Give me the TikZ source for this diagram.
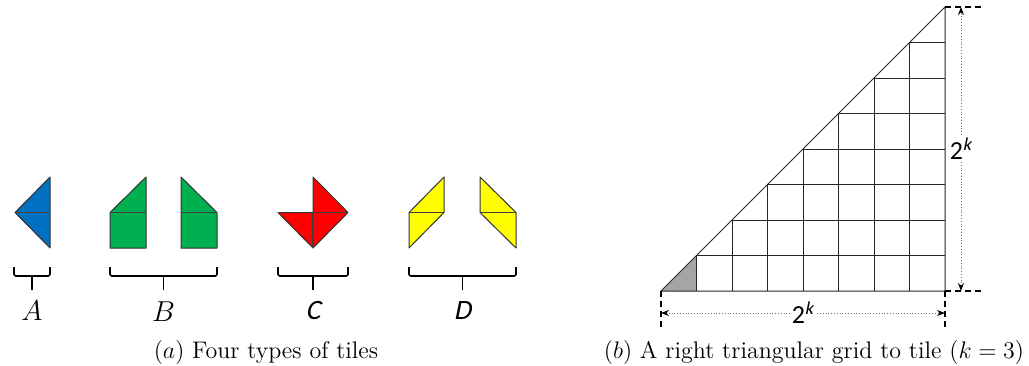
\documentclass[tikz,border=0pt]{standalone}
\usepackage{fontspec}
\newfontfamily\calibri{Carlito}
\newfontfamily\calibrisl{Carlito}[FakeSlant=0.2]
\usetikzlibrary{arrows.meta, calc}
\definecolor{tileblue}{RGB}{0,112,192}
\definecolor{tilegreen}{RGB}{0,176,80}
\definecolor{tilered}{RGB}{255,0,0}
\definecolor{tileyellow}{RGB}{255,255,0}
\definecolor{cellgray}{RGB}{165,165,165}

\begin{document}
\begin{tikzpicture}[x=0.5pt, y=-0.5pt,
    tile/.style={draw=black!80, line width=0.5pt, fill=#1, line join=round},
    seam/.style={draw=black!75, line width=0.6pt},
    brace/.style={draw, line width=0.8pt, rounded corners=1pt},
    tilelabel/.style={font=\fontsize{14}{16}\selectfont, inner sep=0pt},
    gridline/.style={draw=black!85, line width=0.5pt},
    ext/.style={draw, line width=0.6pt, dash pattern=on 3pt off 2pt},
    dim/.style={{Stealth[length=4pt, color=black]}-{Stealth[length=4pt, color=black]},
                densely dotted, draw=black!55, line width=0.4pt},
    dimlabel/.style={font=\calibri\fontsize{13}{15}\selectfont, fill=white, inner sep=1pt},
    caption/.style={font=\fontsize{12}{14}\selectfont}
  ]
  \useasboundingbox (0,0) rectangle (1029,365);

  % (a) the tiles
  \draw[tile=tileblue] (50,177) -- (15,212.5) -- (50,248) -- cycle;
  \draw[seam] (15,212.5) -- (50,212.5);

  \draw[tile=tilegreen] (110,212.5) -- (146,177) -- (146,248) -- (110,248) -- cycle;
  \draw[seam] (110,212.5) -- (146,212.5);
  \draw[tile=tilegreen] (181,177) -- (217,212.5) -- (217,248) -- (181,248) -- cycle;
  \draw[seam] (181,212.5) -- (217,212.5);

  \draw[tile=tilered] (278,212.5) -- (313,212.5) -- (313,177) -- (348,212.5)
        -- (313,248) -- cycle;
  \draw[seam] (313,212.5) -- (313,248) (313,212.5) -- (348,212.5);

  \draw[tile=tileyellow] (409,212.5) -- (444,177) -- (444,212.5) -- (409,248) -- cycle;
  \draw[seam] (409,212.5) -- (444,212.5);
  \draw[tile=tileyellow] (480,177) -- (516,212.5) -- (516,248) -- (480,212.5) -- cycle;
  \draw[seam] (480,212.5) -- (516,212.5);

  % braces and names
  \foreach \l/\r/\m in {14/50/32, 110/217/163.5, 278/348/313, 409/516/462.5} {
    \draw[brace] (\l,267) |- (\r,276) -- (\r,267);
    \draw[brace] (\m,276) -- (\m,290);
  }
  \node[tilelabel] (labA) at (32,311)    {$A$};
  \node[tilelabel] (labB) at (163.5,312) {$B$};
  \node[tilelabel] (labC) at (313,311)   {\calibrisl C};
  \node[tilelabel] (labD) at (462.5,311) {\calibrisl D};

  % (b) the triangular grid
  \coordinate (O) at (661,291);
  \coordinate (R) at (945,291);
  \coordinate (T) at (945,7);
  \fill[cellgray] (O) -- (696.5,291) -- (696.5,255.5) -- cycle;
  \foreach \i in {1,...,7} {
    \draw[gridline] ($(O)+(\i*35.5,0)$) -- ($(O)+(\i*35.5,-\i*35.5)$)
                    -- ($(R)+(0,-\i*35.5)$);
  }
  \draw[gridline] (O) -- (R) -- (T) -- cycle;

  % dimensions
  \draw[ext] (T) -- ++(37,0);
  \draw[ext] (R) -- ++(37,0);
  \draw[ext] (O) -- ++(0,36);
  \draw[ext] (R) -- ++(0,36);
  \coordinate (vb) at (961,291);
  \coordinate (vt) at (961,7);
  \coordinate (hl) at (661,313);
  \coordinate (hr) at (945,313);
  \draw[dim] (vb) -- (vt) node[midway, dimlabel] (vlab) {2\textsuperscript{\calibrisl k}};
  \draw[dim] (hl) -- (hr) node[midway, dimlabel] (hlab) {2\textsuperscript{\calibrisl k}};

  % captions
  \node[caption] (capa) at (266,352) {$(a)$ Four types of tiles};
  \node[caption] (capb) at (814,352) {$(b)$ A right triangular grid to tile $(k=3)$};
\end{tikzpicture}
\end{document}
